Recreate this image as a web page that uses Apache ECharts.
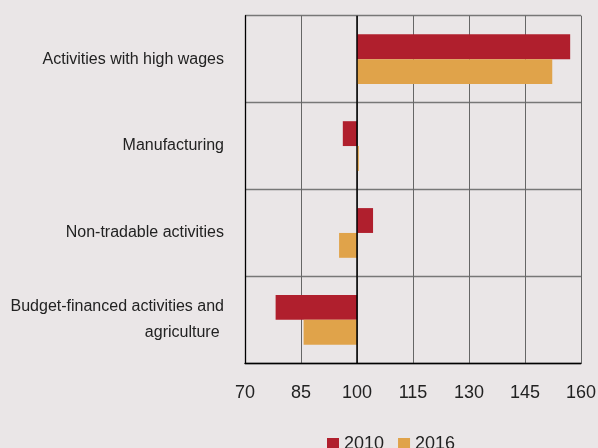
<!DOCTYPE html>
<html>
<head>
<meta charset="utf-8">
<script src="https://cdn.jsdelivr.net/npm/echarts@6/dist/echarts.min.js"></script>
<style>
html,body{margin:0;padding:0;background:#EAE6E7;}
#c{width:598px;height:448px;}
</style>
</head>
<body>
<div id="c"></div>
<script>
var categories = ["Activities with high wages", "Manufacturing", "Non-tradable activities", "Budget-financed activities and\nagriculture "];
var values2010 = [157.1, 96.2, 104.3, 78.2];
var values2016 = [152.3, 100.5, 95.2, 85.7];
var seriesNames = ["2010", "2016"];
var baseValue = 100;
var xTicks = [70, 85, 100, 115, 130, 145, 160];

var FONT = '"Liberation Sans", Arial, sans-serif';
var chart = echarts.init(document.getElementById('c'), null, {renderer: 'canvas'});

function makeRender(slot) {
  return function (params, api) {
    var catIdx = api.value(1);
    var v = api.value(0);
    var p0 = api.coord([baseValue, catIdx]);
    var p1 = api.coord([v, catIdx]);
    var band = api.size([0, 1])[1];
    var h = band * 0.286;
    var y = slot === 0 ? p0[1] - h : p0[1];
    var x = Math.min(p0[0], p1[0]);
    var w = Math.abs(p1[0] - p0[0]);
    return {
      type: 'rect',
      shape: {x: x, y: y, width: w, height: h},
      style: {fill: api.visual('color')}
    };
  };
}

function toData(arr) {
  return arr.map(function (v, i) { return [v, i]; });
}

var option = {
  backgroundColor: '#EAE6E7',
  animation: false,
  textStyle: {fontFamily: FONT},
  grid: {left: 245, right: 17, top: 15.7, bottom: 84.7, containLabel: false, outerBoundsMode: 'none'},
  legend: {
    left: 322,
    top: 430,
    icon: 'rect',
    itemWidth: 12,
    itemHeight: 12,
    itemGap: 14,
    itemTextGap: 5,
    textStyle: {fontFamily: FONT, fontSize: 18, color: '#222'},
    data: seriesNames
  },
  xAxis: {
    type: 'value',
    min: 70,
    max: 160,
    interval: 15,
    axisLine: {show: true, lineStyle: {color: '#000', width: 1.3}},
    axisTick: {show: false},
    axisLabel: {fontFamily: FONT, fontSize: 18, color: '#222', margin: 21},
    splitLine: {show: true, lineStyle: {color: '#666', width: 1}}
  },
  yAxis: {
    type: 'category',
    inverse: true,
    data: categories,
    axisLine: {show: true, lineStyle: {color: '#000', width: 1.3}},
    axisTick: {show: false},
    axisLabel: {fontFamily: FONT, fontSize: 16, color: '#222', margin: 21, align: 'right', lineHeight: 26},
    splitLine: {show: true, lineStyle: {color: '#777', width: 1.3}}
  },
  series: [
    {
      name: seriesNames[0],
      type: 'custom',
      itemStyle: {color: '#B01F2D'},
      encode: {x: 0, y: 1},
      renderItem: makeRender(0),
      data: toData(values2010),
      markLine: {
        silent: true,
        symbol: 'none',
        label: {show: false},
        lineStyle: {color: '#000', width: 1.5, type: 'solid'},
        data: [{xAxis: baseValue}]
      },
      z: 3
    },
    {
      name: seriesNames[1],
      type: 'custom',
      itemStyle: {color: '#E0A34A'},
      encode: {x: 0, y: 1},
      renderItem: makeRender(1),
      data: toData(values2016),
      z: 3
    }
  ]
};
chart.setOption(option);
</script>
</body>
</html>
